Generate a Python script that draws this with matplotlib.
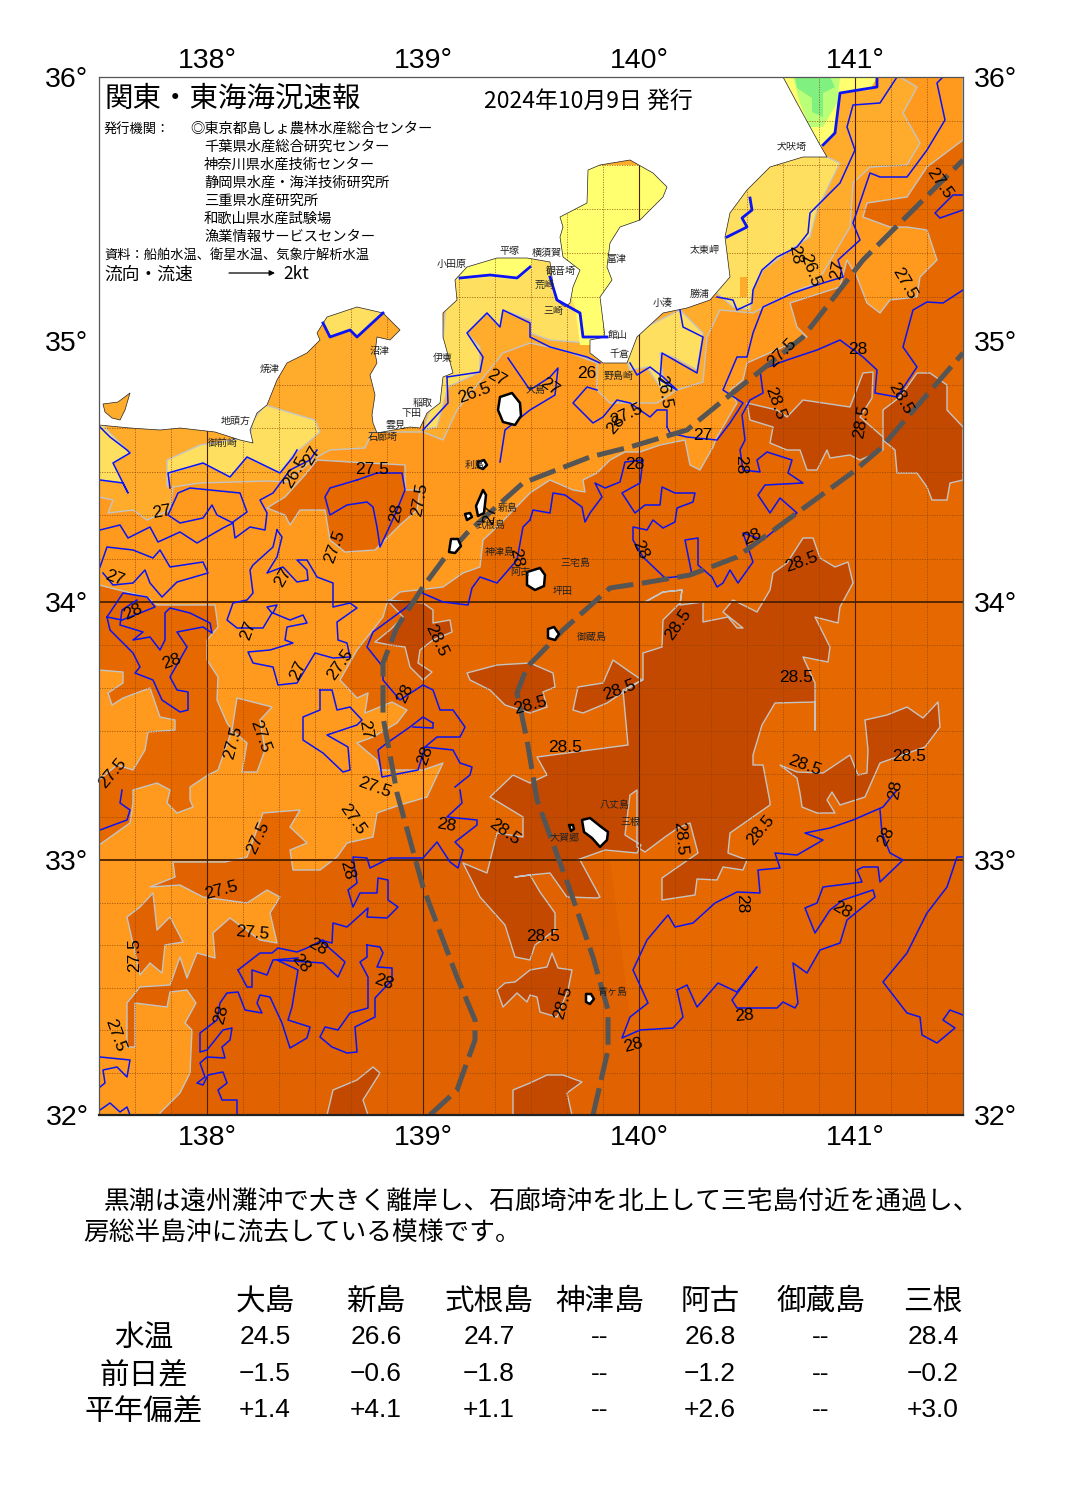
#!/usr/bin/env python3
"""Kanto / Tokai sea condition bulletin, 9 Oct 2024. Outlines traced from the map in image pixels."""
import numpy as np
import matplotlib

matplotlib.use("Agg")
import matplotlib.pyplot as plt
from matplotlib.patches import Polygon

plt.rcParams["font.family"] = ["Noto Sans CJK JP", "DejaVu Sans"]

W, H = 1065, 1505
AX_L, AX_R, AX_T, AX_B = 99, 963, 77, 1115

C_BASE = "#e66800"
C_SOUTH = "#e06200"
C_WARM = "#c44900"
C_27 = "#ff9a1e"
C_265 = "#ffab2c"
C_26 = "#ffdf60"
C_255 = "#ffff70"
C_25 = "#b9ff78"
C_245 = "#80f080"
GRAY = "#c4c4c4"
BLUE = "#0a14f5"

# --- temperature bands (traced vertices) ---
band_28_south = [(622,1038),(640,1030),(673,1028),(683,1017),(677,990),(687,985),(697,1007),(718,983),(737,992),(757,967),
    (732,1000),(737,1008),(777,1008),(783,1002),(798,1003),(793,963),(807,973),(820,950),(840,943),(847,920),(875,897),
    (873,890),(843,900),(815,933),(805,908),(817,903),(823,887),(862,882),(857,870),(878,867),(880,882),(903,860),
    (963,860),(963,1115),(99,1115),(99,860),(610,860),(630,1017)]
band_27 = [(963,77),(963,140),(927,167),(907,197),(867,203),(863,217),(890,227),(907,227),(927,230),(937,260),
    (920,277),(917,297),(890,300),(880,313),(867,303),(857,277),(847,260),(840,287),(790,303),(797,327),(807,337),
    (783,347),(747,363),(743,380),(730,390),(737,403),(727,420),(717,437),(713,447),(700,470),(690,465),(685,440),
    (660,445),(640,452),(625,452),(610,460),(597,473),(583,480),(585,492),(573,490),(550,480),(530,493),(497,527),
    (483,540),(480,567),(463,573),(443,587),(400,592),(387,603),(383,617),(357,650),(340,680),(357,698),(368,693),
    (365,713),(392,702),(407,710),(397,723),(373,737),(357,743),(377,760),(380,770),(392,770),(423,770),(443,763),
    (427,797),(400,805),(377,813),(373,837),(347,843),(337,857),(320,870),(293,870),(290,850),(307,843),(290,827),
    (300,810),(263,813),(247,857),(225,862),(217,862),(173,862),(175,877),(150,887),(180,885),(203,897),(247,903),
    (267,890),(280,897),(270,913),(277,943),(260,940),(230,918),(213,933),(215,958),(197,953),(187,978),(180,957),
    (170,985),(140,987),(127,1003),(127,1047),(135,1047),(135,1003),(167,1007),(170,992),(187,990),(196,1003),
    (185,1023),(192,1030),(190,1073),(180,1093),(160,1113),(160,1115),(99,1115),(99,77)]
band_265 = [(99,497),(113,500),(108,513),(133,510),(147,520),(170,510),(173,487),(200,483),(267,481),(287,482),
    (297,473),(317,457),(330,450),(365,448),(372,432),(423,432),(443,440),(457,410),(473,390),(503,353),(530,343),
    (563,350),(597,363),(597,390),(610,403),(657,403),(677,390),(703,382),(707,337),(720,310),(753,313),(790,293),
    (817,283),(850,227),(853,183),(870,167),(907,165),(920,143),(903,113),(917,87),(900,77),(99,77)]
band_26_a = [(99,420),(110,433),(130,453),(113,463),(128,493),(123,483),(99,480)]
band_26_b = [(167,487),(170,473),(203,463),(230,477),(247,457),(280,473),(293,455),(305,445),(320,432),(315,420),
    (265,405),(253,420),(250,437),(200,445),(167,460)]
band_26_c = [(423,430),(437,427),(448,387),(480,372),(480,347),(467,333),(487,313),(500,327),(503,310),(530,320),
    (530,333),(550,340),(587,343),(600,340),(590,250),(450,250),(440,380)]
band_26_d = [(680,310),(703,333),(697,370),(673,357),(660,353),(663,377),(677,390),(660,387),(647,367),(630,370),(620,340)]
band_26_e = [(827,157),(840,163),(830,183),(817,210),(810,237),(790,250),(763,270),(753,290),(750,310),(733,307),
    (717,293),(700,290),(720,200),(790,150)]
band_26_f = [(323,322),(330,337),(350,330),(357,337),(383,313),(357,300),(327,310)]
band_255_bay = [(588,165),(670,165),(670,200),(615,300),(610,345),(580,345),(575,307),(565,280),(555,215)]
band_255_sagami = [(457,280),(490,277),(517,280),(532,268),(530,250),(460,250)]
band_255_boso = [(783,77),(877,77),(870,90),(840,93),(835,130),(823,147),(800,140)]
band_25 = [(793,77),(800,103),(810,127),(823,127),(837,103),(840,77)]
band_245 = [(795,77),(797,88),(812,98),(812,112),(823,117),(823,93),(835,87),(830,77)]
boso_patch = [(740,277),(747,277),(747,297),(740,297)]

# darker pieces put back over the 27 band
dark_left = [(99,585),(147,597),(157,605),(215,605),(218,627),(207,640),(207,660),(218,677),(217,700),(227,723),
    (232,730),(218,770),(208,775),(190,787),(190,800),(193,807),(177,813),(167,803),(170,790),(157,783),(133,790),
    (133,803),(130,823),(99,845)]
dark_left_finger = [(237,698),(272,707),(260,720),(265,750),(257,772),(242,772),(247,743),(232,730)]
pale_left_pocket = [(99,670),(123,672),(123,683),(108,693),(112,705),(123,698),(150,688),(160,717),(175,720),
    (175,730),(148,732),(145,750),(133,770),(117,765),(99,780)]
dark_lower_a = [(127,917),(140,907),(153,893),(157,930),(170,917),(183,942),(165,945),(162,973),(150,963),(140,975),(127,917)]
warm_27_izu = [(285,497),(305,475),(317,460),(350,462),(405,465),(405,490),(420,490),(417,510),(400,525),(375,550),
    (345,552),(330,540),(325,510),(300,510),(290,525),(285,515),(267,508)]

# warmest band
warm_center = [(645,602),(663,592),(682,590),(680,603),(663,620),(662,647),(643,653),(643,680),(637,683),(607,703),
    (583,713),(573,710),(578,687),(603,683),(613,660),(630,672),(642,680),(623,690),(628,745),(537,757),(547,775),
    (530,783),(513,775),(490,797),(523,817),(523,837),(497,833),(487,873),(463,863),(480,897),(505,925),(515,957),
    (530,960),(535,945),(555,930),(555,913),(540,892),(530,875),(515,877),(530,875),(550,873),(567,897),(597,898),
    (600,897),(580,860),(577,860),(605,850),(637,853),(641,845),(625,835),(630,795),(637,790),(637,847),(645,852),
    (665,837),(678,828),(690,823),(698,853),(662,878),(662,900),(695,895),(697,879),(717,880),(723,867),(743,870),
    (747,860),(728,853),(730,833),(770,805),(770,802),(763,765),(753,765),(753,755),(762,725),(775,703),(815,702),
    (815,730),(815,683),(803,657),(828,662),(830,647),(815,617),(838,623),(840,607),(853,583),(848,562),(835,567),
    (820,558),(813,538),(803,538),(787,563),(773,573),(770,590),(757,612),(733,600),(723,612),(743,628),(737,628),
    (728,617),(703,622),(703,602),(680,605),(682,590),(663,592)]
warm_w2 = [(467,673),(497,665),(530,663),(553,673),(555,687),(543,692),(547,707),(530,713),(505,705),(490,690),(470,680)]
warm_w3 = [(387,600),(423,603),(433,610),(433,623),(450,620),(452,632),(433,640),(420,650),(418,663),(432,672),
    (423,680),(410,667),(405,647),(390,645),(375,642),(390,630),(403,617)]
warm_e = [(865,720),(887,715),(907,707),(923,718),(938,702),(940,727),(925,747),(880,763),(865,797),(840,805),
    (832,792),(827,800),(835,813),(817,813),(802,807),(800,793),(797,778),(780,765),(797,772),(823,773),(850,755),
    (858,775),(867,773),(868,750)]
warm_ne_a = [(883,410),(900,397),(917,373),(930,373),(947,385),(947,410),(963,427),(963,480),(950,483),(947,500),
    (932,500),(927,487),(917,473),(897,473),(895,450),(883,440)]
warm_ne_b = [(747,403),(777,410),(787,417),(803,400),(850,407),(863,373),(873,372),(872,398),(860,417),(883,437),
    (883,450),(860,460),(850,455),(830,458),(827,450),(817,470),(807,470),(800,450),(787,450),(770,443),(773,427),(750,420)]
warm_s_a = [(327,1115),(333,1090),(357,1080),(373,1067),(380,1073),(363,1100),(368,1115)]
warm_s_b = [(513,1115),(513,1090),(530,1083),(547,1075),(563,1075),(582,1082),(567,1093),(572,1115)]
warm_s_c = [(530,970),(547,967),(552,953),(558,968),(572,970),(568,990),(557,1017),(540,1012),(537,997),(530,995),
    (527,1002),(517,993),(503,1007),(497,990),(505,983),(515,982)]

land = [(99,425),(130,428),(160,430),(180,428),(215,432),(240,440),(253,443),(250,430),(257,413),(267,405),(277,380),
    (287,363),(307,353),(320,340),(317,333),(327,317),(357,307),(383,313),(400,330),(390,340),(377,337),(375,353),
    (377,363),(370,375),(375,395),(372,415),(373,423),(377,433),(410,427),(420,428),(427,413),(440,403),(443,377),
    (453,373),(443,337),(443,313),(457,300),(455,280),(467,267),(497,258),(527,258),(550,262),(553,285),(556,300),
    (565,307),(570,303),(573,287),(580,270),(563,257),(560,237),(563,227),(560,217),(587,203),(588,170),(600,165),
    (630,160),(653,173),(667,187),(663,197),(640,220),(620,227),(610,243),(607,267),(612,280),(600,297),(605,337),
    (590,340),(590,353),(603,363),(627,363),(637,337),(663,313),(687,308),(710,300),(730,277),(725,237),(730,213),
    (747,190),(770,167),(803,157),(827,157),(820,145),(797,103),(783,77),(99,77)]
hamana = [(103,404),(118,402),(130,393),(125,410),(120,420),(112,418),(105,412)]

island_oshima = [(500,397),(512,393),(520,403),(521,416),(515,425),(503,422),(498,410)]
island_toshima = [(478,462),(484,460),(487,465),(483,469),(478,467)]
island_niijima = [(483,490),(486,495),(484,513),(478,516),(476,506),(480,497)]
island_shikine = [(465,514),(470,513),(472,517),(467,520)]
island_kozu = [(451,539),(458,539),(461,546),(455,553),(449,552)]
island_miyake = [(527,572),(540,568),(545,575),(544,586),(535,590),(527,585)]
island_mikura = [(548,629),(554,627),(559,634),(555,640),(548,638)]
island_hachijo = [(582,820),(590,818),(600,826),(608,832),(607,840),(600,847),(592,838),(584,832)]
island_kojima = [(569,825),(573,825),(574,829),(571,831)]
island_aoga = [(586,994),(591,994),(594,999),(590,1004),(586,1002)]

# --- isotherms, blue (traced vertices) ---
blue_28_east = [(677,990),(683,1017),(673,1028),(640,1030),(622,1038),(630,1017),(648,1003),(633,970),(647,940),
    (668,915),(675,927),(693,923),(715,903),(737,892),(760,893),(758,870),(780,868),(775,853),(797,855),(823,840),
    (805,833),(830,828),(853,820),(883,807),(897,790)]
blue_28_branch = [(880,810),(882,833),(890,853),(903,860),(880,882),(878,867),(863,867),(857,870),(862,882),(823,887),
    (817,903),(805,908),(815,933),(830,910),(843,900),(873,890),(875,897),(847,920),(840,943),(820,950),(807,973),
    (793,963),(798,1003),(795,1008),(783,1002),(777,1008),(737,1008),(732,1000),(757,967),(737,992),(718,983),
    (697,1007),(687,985),(677,990)]
blue_28_se = [(963,857),(957,857),(947,887),(927,913),(907,953),(883,982),(907,1013),(920,1017),(922,1035),(937,1043),
    (955,1028),(943,1020),(950,1010),(963,1015)]
blue_28_north = [(530,520),(533,510),(550,513),(553,493),(565,495),(582,507),(585,522),(590,513),(602,497),(595,483),
    (605,488),(620,482),(625,462),(643,460),(640,483),(622,493),(635,513),(645,505),(660,505),(662,487),(675,493),
    (695,493),(693,502),(677,508),(675,522),(663,528),(653,520),(647,530),(633,527),(633,540),(643,557),(665,578),
    (692,575),(685,540),(698,538),(698,565),(712,577),(717,587),(723,583),(730,570),(738,583),(753,562),(743,533),
    (763,540),(787,520),(797,513),(780,498),(770,513),(758,495),(765,485),(803,483),(788,473),(792,460),(767,452),
    (757,460),(760,472),(743,470),(740,450),(745,440),(742,415),(750,400),(763,393),(760,370),(787,360),(817,350),
    (840,340),(863,357),(877,370),(875,393),(897,397),(917,367),(903,347),(913,310),(927,302),(943,303),(963,290)]
blue_27_ne = [(667,427),(670,433),(687,437),(717,440),(730,423),(743,403),(723,390),(737,357),(747,357),(753,333),
    (763,307),(793,293),(823,283),(843,277),(838,260),(860,240),(853,223),(870,173),(880,177),(907,177),(927,150),
    (945,120),(937,83),(943,77)]
blue_27_edge = [(963,195),(953,195),(935,213),(940,218),(963,210)]
blue_27_oshima = [(667,427),(667,410),(657,410),(650,417),(630,403),(617,400),(603,417),(593,423),(573,403),(587,387),(597,390)]
blue_265_ne = [(897,77),(880,103),(853,105),(847,127),(855,150),(840,183),(810,213),(808,233),(797,247),(777,257),
    (762,270),(753,290),(752,303),(737,310),(733,300),(717,297)]
blue_26_sagami = [(447,377),(480,372),(483,357),(467,333),(487,313),(500,327),(503,310),(530,323),(530,337),(550,347),(587,357),(600,363)]
blue_26_boso = [(630,363),(637,375),(650,367),(663,377),(677,390),(660,380),(662,353),(697,373),(703,337),(683,327),(680,310)]
blue_26_izu = [(447,377),(448,403),(423,430)]
blue_oshima = [(508,358),(530,390),(550,377),(558,368),(555,395),(530,410),(505,430),(500,462)]
blue_27_w1 = [(100,530),(120,525),(128,538),(150,527),(158,542),(180,532),(197,543),(223,528),(233,523),(235,538),
    (250,527),(265,530),(267,513),(260,500),(273,493),(290,470),(310,460),(317,450)]
blue_27_w2 = [(233,523),(217,515),(212,505),(203,518),(180,523),(168,515),(178,493),(190,488),(240,493),(247,512),(233,522)]
blue_27_w3 = [(100,567),(107,547),(133,550),(153,558),(160,550),(170,567),(203,562),(208,573),(177,582),(162,597),
    (150,583),(145,570),(133,583),(113,585),(103,573)]
blue_265_w4 = [(100,480),(123,483),(128,493),(113,463),(130,453),(127,450),(110,437),(100,427)]
blue_265_w5 = [(170,488),(168,473),(203,463),(230,477),(247,457),(280,473),(293,457),(297,450)]
blue_265_suruga = [(323,323),(330,337),(350,330),(357,337),(383,313)]
blue_27_mid = [(277,530),(273,547),(253,565),(250,570),(253,593),(247,600),(233,603),(227,620),(237,628),(263,628),
    (272,613),(267,607),(277,605),(273,613),(290,620),(303,615),(307,623),(287,627),(285,640),(293,643),(270,650),
    (248,652),(253,663),(273,667),(278,685),(297,683),(315,653),(333,658),(350,657),(347,643),(338,640),(337,622),
    (357,608),(350,603),(333,607),(333,583),(317,577),(307,560),(297,560),(307,570),(308,580),(297,582),(283,567),
    (267,573),(277,557),(282,537),(277,530)]
blue_28_west = [(107,617),(123,593),(147,597),(155,607),(140,613),(122,620),(107,617),(110,630),(123,643),(133,653),
    (140,667),(135,673),(153,680),(162,700),(180,712),(188,710),(188,692),(177,690),(170,677),(187,647),(177,632),
    (203,627),(212,633),(210,623),(190,613),(170,608),(165,613),(165,640),(160,650),(150,637),(133,640),(143,632),
    (120,625),(122,610),(137,600)]
blue_28_izu = [(357,480),(377,473),(402,473),(405,490),(397,510),(388,530),(380,547),(377,527),(373,507),(367,502),
    (347,505),(330,515),(325,497),(330,488),(357,480)]
blue_28_kuro = [(530,520),(523,527),(517,560),(497,583),(480,577),(472,588),(468,605),(443,602),(420,592),(407,607),
    (373,632),(367,647),(383,667),(383,680),(400,700),(423,685),(433,690),(440,710),(453,710),(465,727),(460,737),
    (437,737),(425,747),(453,750),(460,763),(472,767),(470,775),(455,787)]
blue_28_loop = [(433,723),(423,717),(410,727),(387,743),(378,750),(382,777),(418,770),(425,747)]
blue_28_loop2 = [(433,723),(433,728),(413,727)]
blue_27_low = [(320,690),(332,690),(337,710),(350,707),(362,720),(357,725),(327,735),(348,747),(350,770),(343,772),
    (323,753),(303,740),(303,717),(320,710),(320,690)]
blue_27_left = [(100,830),(127,820),(130,810),(120,803),(122,790)]
blue_28_south = [(460,790),(462,803),(447,817),(477,820),(477,825),(455,842),(463,850),(458,868),(450,862),(437,842),
    (423,858),(390,858),(370,868),(367,858),(353,857),(357,883),(348,890),(353,907),(360,893),(377,893),(378,878),
    (388,880),(388,900),(398,907),(387,918),(367,917),(368,908),(347,927),(333,923),(332,943),(320,940),(335,953),
    (345,962),(338,977),(323,963),(277,960),(298,970),(292,1007),(288,1020),(310,1027),(307,1038),(290,1048),(282,1023),
    (270,997),(260,995),(257,1003),(262,1013),(245,1010),(238,992),(227,993),(220,1003),(217,1020),(200,1033),(200,1052),
    (207,1050),(223,1030),(232,1028),(230,1040),(222,1047),(225,1058),(207,1057),(200,1063),(205,1077),(197,1083),
    (203,1085),(208,1075),(223,1072),(227,1083),(218,1090),(222,1100),(237,1100),(237,1115)]
blue_28_s2 = [(238,970),(247,987),(252,987),(252,970),(267,975),(273,960),(298,958)]
blue_28_s3 = [(238,970),(260,953),(272,953),(278,948),(297,952),(307,948),(323,940)]
blue_28_s4 = [(367,945),(380,947),(383,953),(377,967),(392,968),(392,980),(375,998),(375,1017),(355,1027),(357,1052),
    (347,1053),(332,1047),(320,1037),(325,1027),(338,1030),(350,1013),(368,1008),(368,977),(360,962),(367,957),(367,945)]
blue_27_sw1 = [(100,1057),(130,1060),(127,1077),(117,1067),(103,1070),(105,1083),(100,1087)]
blue_27_sw2 = [(100,1110),(110,1103),(120,1112),(127,1107),(130,1115)]
blue_thick_boso = [(877,77),(877,87),(840,93),(835,133),(823,145)]
blue_thick_katsu = [(750,198),(752,210),(742,218),(747,227),(727,237)]
blue_thick_bay = [(550,277),(557,300),(580,313),(583,337),(607,337)]
blue_thick_sagami = [(460,278),(490,275),(517,278),(530,267)]

kuroshio_a = [(430,1115),(457,1090),(475,1040),(475,1020),(457,977),(423,887),(397,793),(383,717),(383,663),(397,627),
    (423,587),(443,560),(467,533),(523,483),(590,457),(630,447),(687,430),(720,403),(803,337),(863,260),(913,210),(963,160)]
kuroshio_b = [(593,1115),(608,1050),(608,1010),(593,957),(570,890),(537,800),(527,740),(517,693),(527,667),(537,657),
    (563,630),(610,588),(643,583),(690,575),(737,557),(797,513),(853,472),(880,449),(963,353)]

# contour labels: text, image position, angle
iso_text = ["27.5","27.5","26.5","28","27","27.5","28","28.5","28.5","28.5","26.5","26","27.5","28","27","27","26.5","27",
    "28","28","28","28","28.5","28.5","28.5","28.5","28.5","28.5","28.5","28.5","28","28.5","28","28","27","27.5","27.5",
    "28","28.5","28","27.5","27.5","27.5","27.5","28","28","28","28","27.5","28.5","28.5","28","28","28","28","28","28.5",
    "28.5","27","28","28","27","27.5","26.5","27","28","27.5","27.5","27","27","27","27.5","27.5","27.5","28","27","27.5"]
iso_x = [940,904,810,795,837,782,858,775,900,862,663,587,627,616,703,497,475,550,635,741,752,640,802,678,620,796,530,565,
    805,909,895,436,405,425,365,375,353,446,505,347,258,221,252,135,318,301,384,221,115,543,563,633,744,742,842,886,761,
    680,115,133,172,162,372,296,312,396,420,335,283,248,298,340,233,260,516,490,113]
iso_y = [183,283,270,255,270,353,350,403,398,422,392,374,415,425,436,378,393,387,465,465,537,550,562,625,690,678,705,748,
    766,757,790,640,693,755,730,788,819,825,832,870,838,890,933,955,947,963,982,1015,1035,937,1002,1045,1016,904,910,836,
    830,838,578,612,661,512,470,472,455,513,500,547,577,630,670,665,742,736,558,515,773]
iso_rot = [-55,-60,-70,-80,80,45,0,-70,-60,80,-80,0,25,50,0,-30,20,-35,0,-90,25,-65,20,55,20,0,15,0,-20,0,80,-65,65,70,-80,
    -20,-55,-10,-35,-75,65,15,-5,90,-30,-50,-20,75,-70,0,75,15,5,-90,-30,60,50,-85,-20,25,20,10,0,60,60,80,80,70,60,70,65,
    55,75,-70,-80,80,50]

# place names: text, image position
place_text = ["小田原","平塚","横須賀","観音埼","荒崎","三崎","富津","館山","千倉","野島崎","大島","太東岬","小湊","勝浦","犬吠埼",
    "沼津","伊東","焼津","地頭方","御前崎","稲取","下田","雲見","石廊埼","利島","新島","式根島","神津島","阿古","三宅島","坪田",
    "御蔵島","八丈島","三根","大賀郷","青ヶ島"]
place_x = [452,510,547,561,545,553,616,618,620,619,536,705,663,700,792,380,443,270,236,223,423,412,395,383,475,508,490,500,
    520,575,563,592,615,630,565,612]
place_y = [264,251,253,271,285,311,259,335,354,376,390,250,303,294,147,351,358,369,421,443,403,413,425,437,465,508,525,552,
    572,563,591,637,805,822,838,992]

issuers = ["◎東京都島しょ農林水産総合センター","千葉県水産総合研究センター","神奈川県水産技術センター","静岡県水産・海洋技術研究所",
    "三重県水産研究所","和歌山県水産試験場","漁業情報サービスセンター"]

# station table
stations = ["大島","新島","式根島","神津島","阿古","御蔵島","三根"]
station_x = [265,376,489,600,710,821,933]
row_names = ["水温","前日差","平年偏差"]
water_temp = ["24.5","26.6","24.7","--","26.8","--","28.4"]
day_diff = ["−1.5","−0.6","−1.8","--","−1.2","--","−0.2"]
normal_diff = ["+1.4","+4.1","+1.1","--","+2.6","--","+3.0"]

lon_ticks = [138, 139, 140, 141]
lat_ticks = [32, 33, 34, 35, 36]


def merc(lat):
    return np.arcsinh(np.tan(np.radians(lat)))


def merc_inv(m):
    return np.degrees(np.arctan(np.sinh(m)))


def lon_of(px):
    return 137.5 + (np.asarray(px, float) - AX_L) / 216.0


def lat_of(py):
    frac = (AX_B - np.asarray(py, float)) / (AX_B - AX_T)
    return merc_inv(merc(32.0) + frac * (merc(36.0) - merc(32.0)))


def to_map(points):
    pts = np.array(points, float)
    return np.column_stack([lon_of(pts[:, 0]), lat_of(pts[:, 1])])


def fill(ax, points, color, z, edge=GRAY, lw=1.0):
    ax.add_patch(Polygon(to_map(points), closed=True, facecolor=color, edgecolor=edge if edge else color,
                         linewidth=lw, zorder=z, joinstyle="round"))


def line(ax, points, lw=1.1):
    xy = to_map(points)
    ax.plot(xy[:, 0], xy[:, 1], color=BLUE, lw=lw, zorder=5, solid_joinstyle="round")


def ftext(fig, x, y, s, **kw):
    kw.setdefault("va", "center")
    fig.text(x / W, 1 - y / H, s, **kw)


fig = plt.figure(figsize=(W / 100, H / 100), dpi=100, facecolor="white")
ax = fig.add_axes([AX_L / W, 1 - AX_B / H, (AX_R - AX_L) / W, (AX_B - AX_T) / H])
ax.set_facecolor(C_BASE)
ax.set_yscale("function", functions=(merc, merc_inv))
ax.set_xlim(137.5, 141.5)
ax.set_ylim(32, 36)

fill(ax, band_28_south, C_SOUTH, 1.0, edge=None, lw=0)
fill(ax, band_27, C_27, 1.1)
fill(ax, dark_left, C_BASE, 1.2)
fill(ax, dark_left_finger, C_BASE, 1.2)
fill(ax, dark_lower_a, C_SOUTH, 1.2)
fill(ax, pale_left_pocket, C_27, 1.25)
fill(ax, warm_27_izu, C_BASE, 1.2)
fill(ax, band_265, C_265, 1.3)
for poly in [band_26_a, band_26_b, band_26_c, band_26_d, band_26_e, band_26_f]:
    fill(ax, poly, C_26, 1.4)
fill(ax, boso_patch, C_265, 1.45, edge=None, lw=0)
for poly in [band_255_bay, band_255_sagami, band_255_boso]:
    fill(ax, poly, C_255, 1.5, edge=None, lw=0)
fill(ax, band_25, C_25, 1.6, edge=None, lw=0)
fill(ax, band_245, C_245, 1.7, edge=None, lw=0)
for poly in [warm_center, warm_w2, warm_w3, warm_e, warm_ne_a, warm_ne_b, warm_s_a, warm_s_b, warm_s_c]:
    fill(ax, poly, C_WARM, 1.8)

# graticule: 1 degree solid, 10 minute dotted
ax.set_axisbelow(False)
ax.set_xticks(lon_ticks)
ax.set_yticks(lat_ticks)
ax.set_xticks([137.5 + i / 6 for i in range(25)], minor=True)
ax.set_yticks([32 + i / 6 for i in range(25)], minor=True)
ax.xaxis.set_minor_formatter(plt.NullFormatter())
ax.yaxis.set_minor_formatter(plt.NullFormatter())
ax.grid(which="major", axis="x", color="#4a2000", lw=0.8)
ax.grid(which="major", axis="y", color="#4a2000", lw=1.3)
ax.grid(which="minor", color="#8a4000", lw=0.6, ls=(0, (1.5, 1.5)), alpha=0.75)
ax.get_ygridlines()[3].set_visible(False)  # the 35 degree line is not drawn solid
ax.tick_params(which="both", length=0)
ax.tick_params(axis="x", labelbottom=True, pad=7)
ax.tick_params(axis="y", labelleft=True, labelright=True, pad=7.5)
ax.set_xticklabels([f"{v}°" for v in lon_ticks], family="Liberation Sans", fontsize=20.5)
ax.set_yticklabels([f"{v}°" for v in lat_ticks], family="Liberation Sans", fontsize=20.5)

# top labels sit closer to the frame than the bottom ones
top = ax.secondary_xaxis("top")
top.set_xticks(lon_ticks)
top.set_xticklabels([f"{v}°" for v in lon_ticks], family="Liberation Sans", fontsize=20.5)
top.tick_params(length=0, pad=2)
top.spines["top"].set_visible(False)

fill(ax, land, "white", 4, edge="#222222", lw=0.5)
fill(ax, hamana, C_265, 4.1, edge="#222222", lw=0.5)

for seg in [blue_28_east, blue_28_branch, blue_28_se, blue_28_north, blue_27_ne, blue_27_edge, blue_27_oshima, blue_265_ne,
            blue_26_sagami, blue_26_boso, blue_26_izu, blue_oshima, blue_27_w1, blue_27_w2, blue_27_w3, blue_265_w4,
            blue_265_w5, blue_27_mid, blue_28_west, blue_28_izu, blue_28_kuro, blue_28_loop, blue_28_loop2, blue_27_low,
            blue_27_left, blue_28_south, blue_28_s2, blue_28_s3, blue_28_s4, blue_27_sw1, blue_27_sw2]:
    line(ax, seg)
for seg in [blue_thick_boso, blue_thick_katsu, blue_thick_bay, blue_thick_sagami, blue_265_suruga]:
    line(ax, seg, lw=2.0)

for seg in [kuroshio_a, kuroshio_b]:
    xy = to_map(seg)
    ax.plot(xy[:, 0], xy[:, 1], color="#555555", lw=3.6, dashes=(5.5, 1.7), zorder=6)

for isl in [island_oshima, island_toshima, island_niijima, island_shikine, island_kozu, island_miyake, island_mikura,
            island_hachijo, island_kojima, island_aoga]:
    fill(ax, isl, "white", 6.5, edge="black", lw=1.8)

for s, x, y, r in zip(iso_text, iso_x, iso_y, iso_rot):
    ax.text(lon_of(x), lat_of(y), s, rotation=r, ha="center", va="center", fontsize=12.5, color="black",
            family="Liberation Sans", zorder=8, rotation_mode="anchor")
for s, x, y in zip(place_text, place_x, place_y):
    ax.text(lon_of(x), lat_of(y), s, ha="center", va="center", fontsize=7.2, color="#222222", zorder=7)

for side, sp in ax.spines.items():
    sp.set_zorder(10)
    sp.set_color("#555555")
    sp.set_linewidth(0.9)
ax.spines["bottom"].set_color("#222222")
ax.spines["bottom"].set_linewidth(1.6)

# header block on the land area
ftext(fig, 104, 99, "関東・東海海況速報", fontsize=20.5, zorder=20)
ftext(fig, 484, 101, "2024年10月9日 発行", fontsize=16.5)
ftext(fig, 104, 129, "発行機関：", fontsize=9.5)
ftext(fig, 190, 129, issuers[0], fontsize=10.3)
for i, s in enumerate(issuers[1:]):
    ftext(fig, 204, 147 + i * 18, s, fontsize=10.3)
ftext(fig, 104, 255, "資料：船舶水温、衛星水温、気象庁解析水温", fontsize=9.5)
ftext(fig, 104, 275, "流向・流速", fontsize=12.8)
ftext(fig, 283, 274, "2kt", fontsize=12.5)
ax.annotate("", xy=(lon_of(275), lat_of(273)), xytext=(lon_of(229), lat_of(273)), zorder=9,
            arrowprops=dict(arrowstyle="-|>", color="black", lw=0.9, mutation_scale=8, shrinkA=0, shrinkB=0))

# bulletin text
ftext(fig, 104, 1203, "黒潮は遠州灘沖で大きく離岸し、石廊埼沖を北上して三宅島付近を通過し、", fontsize=18.5)
ftext(fig, 83, 1234, "房総半島沖に流去している模様です。", fontsize=18.5)

for s, x in zip(stations, station_x):
    ftext(fig, x, 1301, s, fontsize=21.3, ha="center")
for s, y in zip(row_names, [1338, 1375, 1411]):
    ftext(fig, 144, y, s, fontsize=21.3, ha="center")
for row, y in zip([water_temp, day_diff, normal_diff], [1337, 1374, 1410]):
    for s, x in zip(row, station_x):
        ftext(fig, x, y, s, fontsize=19, ha="center", family="Liberation Sans")

fig.savefig("out.png", dpi=100, facecolor="white")
